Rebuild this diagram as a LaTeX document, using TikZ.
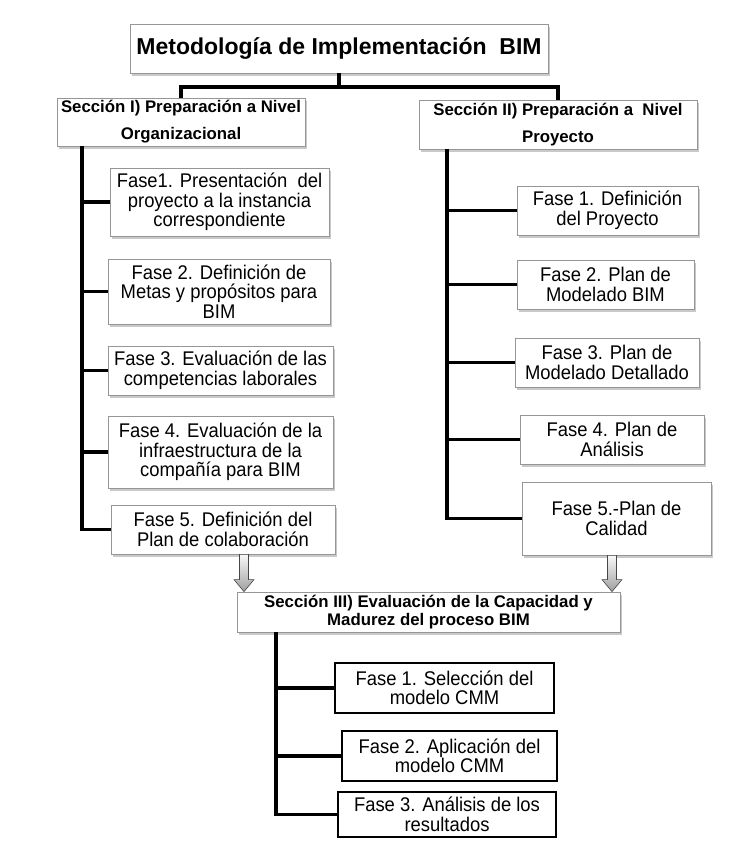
\documentclass[tikz,border=0pt]{standalone}
\usepackage{fontspec}
\setmainfont{Liberation Sans}
\newfontfamily\phasefont[FakeStretch=0.93]{Liberation Sans}
\usetikzlibrary{calc,shadows}
\definecolor{boxline}{RGB}{150,150,150}
\tikzset{
  box/.style={draw=boxline, line width=0.8pt, fill=white, inner sep=0pt, align=center,
    drop shadow={shadow xshift=2pt, shadow yshift=-2.5pt, opacity=0.35, fill=black!60}},
  titlebox/.style={box, font=\bfseries\fontsize{23}{27}\selectfont},
  secbox/.style={box, font=\bfseries\fontsize{16.8}{27}\selectfont},
  sec3box/.style={box, font=\bfseries\fontsize{16.8}{17.5}\selectfont},
  phase/.style={box, font=\phasefont\fontsize{19.8}{19.5}\selectfont},
  phase3/.style={draw=black, line width=1.5pt, fill=white, inner sep=0pt, align=center,
    font=\phasefont\fontsize{19.8}{19.5}\selectfont},
  conn/.style={draw=black, line width=3.8pt},
  blockarr/.style={draw=gray!55!black, line width=0.6pt, top color=gray!5, bottom color=gray!75}
}
\begin{document}
\begin{tikzpicture}[x=1pt,y=-1pt]
\fill[white] (0,0) rectangle (736,844);
\path[use as bounding box] (0,0) rectangle (736,844);

\coordinate (tSplit) at (339,87);

% title and sections
\node[titlebox, minimum width=418pt, minimum height=49pt] (title) at (339,48.5) {Metodología de Implementación\ \ BIM};
\node[secbox, minimum width=248pt, minimum height=48pt] (secI) at (181,122) {Sección I) Preparación a Nivel\\Organizacional};
\node[secbox, minimum width=278pt, minimum height=49pt] (secII) at (558,124.5) {Sección II) Preparación a\ \ Nivel\\Proyecto};

% left phases
\node[phase, minimum width=219pt, minimum height=68pt] (L1) at (219.5,202) {Fase1. Presentación\ \ del\\proyecto a la instancia\\correspondiente};
\node[phase, minimum width=222pt, minimum height=65pt] (L2) at (219,291.5) {Fase 2. Definición de\\Metas y propósitos para\\BIM};
\node[phase, minimum width=225pt, minimum height=49pt] (L3) at (220.5,370.5) {Fase 3. Evaluación de las\\competencias laborales};
\node[phase, minimum width=225pt, minimum height=72pt] (L4) at (220.5,452) {Fase 4. Evaluación de la\\infraestructura de la\\compañía para BIM};
\node[phase, minimum width=224pt, minimum height=49pt] (L5) at (223,529.5) {Fase 5. Definición del\\Plan de colaboración};

% right phases
\node[phase, minimum width=181pt, minimum height=49pt] (R1) at (607.5,210.5) {Fase 1. Definición\\del Proyecto};
\node[phase, minimum width=177pt, minimum height=49pt] (R2) at (605.5,284.5) {Fase 2. Plan de\\Modelado BIM};
\node[phase, minimum width=184pt, minimum height=49pt] (R3) at (607,362.5) {Fase 3. Plan de\\Modelado Detallado};
\node[phase, minimum width=184pt, minimum height=49pt] (R4) at (612,439.5) {Fase 4. Plan de\\Análisis};
\node[phase, minimum width=189pt, minimum height=73pt] (R5) at (616.5,518.5) {Fase 5.-Plan de\\Calidad};

% section III
\node[sec3box, minimum width=383pt, minimum height=40pt] (secIII) at (428.5,612) {Sección III) Evaluación de la Capacidad y\\Madurez del proceso BIM};
\node[phase3, minimum width=219pt, minimum height=50pt] (S1) at (444.5,688) {Fase 1. Selección del\\modelo CMM};
\node[phase3, minimum width=215pt, minimum height=50pt] (S2) at (449.5,756) {Fase 2. Aplicación del\\modelo CMM};
\node[phase3, minimum width=218pt, minimum height=45pt] (S3) at (447,814.5) {Fase 3. Análisis de los\\resultados};

% top tree connectors
\draw[conn] (title.south) -- (tSplit) -| (secI.north);
\draw[conn] (tSplit) -| (secII.north);

% left spine
\coordinate (sL) at ($(secI.south west)+(25,0)$);
\draw[conn] (sL) |- (L5.west);
\foreach \n in {L1,L2,L3,L4} \draw[conn] (sL |- \n.west) -- (\n.west);

% right spine
\coordinate (sR) at ($(secII.south west)+(28,0)$);
\draw[conn] (sR) |- (R5.west);
\foreach \n in {R1,R2,R3,R4} \draw[conn] (sR |- \n.west) -- (\n.west);

% section III spine
\coordinate (sT) at ($(secIII.south west)+(39,0)$);
\draw[conn] (sT) |- (S3.west);
\foreach \n in {S1,S2} \draw[conn] (sT |- \n.west) -- (\n.west);

% block arrows into section III
\coordinate (aLt) at ($(L5.south)+(21,0)$);
\coordinate (aLh) at (aLt |- secIII.north);
\draw[blockarr] ($(aLt)+(-4.5,0)$) -- ($(aLh)+(-4.5,-12)$) -- ($(aLh)+(-10,-12)$) -- (aLh)
  -- ($(aLh)+(10,-12)$) -- ($(aLh)+(4.5,-12)$) -- ($(aLt)+(4.5,0)$) -- cycle;
\coordinate (aRt) at ($(R5.south)+(-4.5,0)$);
\coordinate (aRh) at (aRt |- secIII.north);
\draw[blockarr] ($(aRt)+(-4.5,0)$) -- ($(aRh)+(-4.5,-12)$) -- ($(aRh)+(-10,-12)$) -- (aRh)
  -- ($(aRh)+(10,-12)$) -- ($(aRh)+(4.5,-12)$) -- ($(aRt)+(4.5,0)$) -- cycle;
\end{tikzpicture}
\end{document}
